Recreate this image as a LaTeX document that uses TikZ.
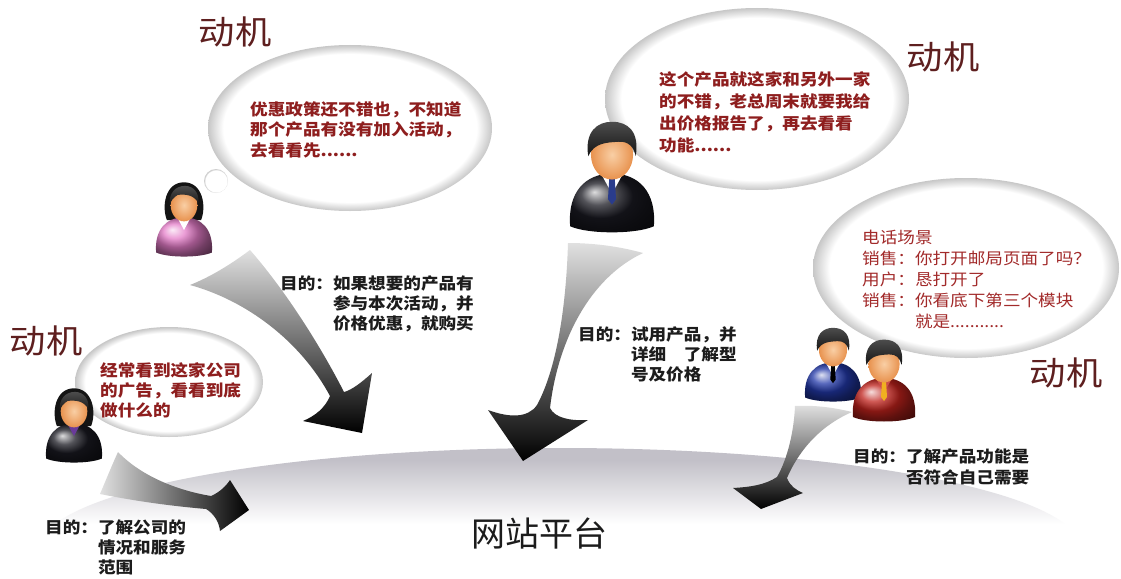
\documentclass[tikz,border=0pt]{standalone}
\usepackage{fontspec}
\newfontfamily\cjk{Noto Sans CJK SC}
\newfontfamily\cjkw{Noto Sans CJK SC}[FakeStretch=1.1]

\definecolor{motivered}{HTML}{5E1F1F}
\definecolor{speechred}{HTML}{8E1E1E}
\definecolor{callred}{HTML}{A22A2A}
\definecolor{goalblack}{HTML}{1C1C1C}
\definecolor{platgray}{HTML}{C2C0C8}
\definecolor{skinlight}{HTML}{F9CFA5}
\definecolor{skindark}{HTML}{E8924E}
\definecolor{hairblack}{HTML}{141414}
\definecolor{suitblack}{HTML}{1A1A22}
\definecolor{suitblue}{HTML}{2238A8}
\definecolor{shirtred}{HTML}{C0221C}
\definecolor{tieyellow}{HTML}{F0B020}
\definecolor{tieblue}{HTML}{2A3C8C}
\definecolor{dresspink}{HTML}{E47CC8}
\definecolor{innerpurple}{HTML}{6A3A9A}

% white thought bubble with a soft grey rim (the shape's rim sits at 25bp)
\pgfdeclareradialshading{bubbleshade}{\pgfpoint{0bp}{0bp}}{%
  color(0bp)=(white); color(22.3bp)=(white); color(25bp)=(black!22); color(50bp)=(black!22)}
% platform: grey along the upper rim, white further down (shape spans 25bp..75bp)
\pgfdeclareverticalshading{platshade}{100bp}{%
  color(0bp)=(white); color(56bp)=(white); color(72bp)=(platgray); color(100bp)=(platgray)}

\usetikzlibrary{shapes.geometric}

\tikzset{
  bubble/.style={ellipse, shade, shading=bubbleshade, inner sep=0pt},
  motive/.style={font=\cjkw\fontsize{33}{33}\selectfont, text=motivered, inner sep=0pt},
  speech/.style={font=\cjkw\bfseries\fontsize{16}{20.5}\selectfont, text=speechred,
                 align=left, anchor=north west, inner sep=0pt},
  call/.style={font=\cjkw\fontsize{16}{21}\selectfont, text=callred,
               anchor=north west, inner sep=0pt},
  goal/.style={font=\cjkw\bfseries\fontsize{16}{20}\selectfont, text=goalblack,
               anchor=north west, inner sep=0pt},
  swoosh/.style={top color=black!12, middle color=black!62, bottom color=black},
  % head and shoulders icons, head radius = 1, y axis pointing down
  pics/man/.style n args={3}{code={
    \shade[ball color=#1] (-1.55,2.75) .. controls (-1.65,1.5) and (-1.0,0.8) .. (0,0.8)
       .. controls (1.0,0.8) and (1.65,1.5) .. (1.55,2.75)
       .. controls (0.9,3.05) and (-0.9,3.05) .. cycle;
    \fill[#2] (-0.38,0.85) -- (0,1.55) -- (0.38,0.85) -- cycle;
    \fill[#3] (-0.1,0.95) -- (0.1,0.95) -- (0.15,1.75) -- (0,1.95) -- (-0.15,1.75) -- cycle;
    \shade[inner color=skinlight, outer color=skindark] (0,0.1) ellipse (0.78 and 0.92);
    \shade[top color=black!70, bottom color=hairblack]
       (-0.88,0.15) .. controls (-1.02,-0.75) and (-0.55,-1.12) .. (0,-1.12)
       .. controls (0.6,-1.12) and (1.02,-0.75) .. (0.88,0.15)
       .. controls (0.8,-0.2) and (0.6,-0.4) .. (0.25,-0.38)
       .. controls (-0.2,-0.35) and (-0.65,-0.35) .. (-0.88,0.15) -- cycle;
  }},
  pics/woman/.style n args={2}{code={
    \fill[hairblack] (-0.95,0.95) .. controls (-1.25,0.2) and (-1.05,-1.15) .. (0,-1.15)
       .. controls (1.05,-1.15) and (1.25,0.2) .. (0.95,0.95) -- cycle;
    \shade[ball color=#1] (-1.55,2.75) .. controls (-1.65,1.5) and (-1.0,0.8) .. (0,0.8)
       .. controls (1.0,0.8) and (1.65,1.5) .. (1.55,2.75)
       .. controls (0.9,3.05) and (-0.9,3.05) .. cycle;
    \fill[#2] (-0.35,0.85) -- (0,1.5) -- (0.35,0.85) -- cycle;
    \shade[inner color=skinlight, outer color=skindark] (0,0.12) ellipse (0.74 and 0.9);
    \shade[top color=black!70, bottom color=hairblack]
       (-0.8,0.15) .. controls (-0.85,-0.6) and (-0.45,-0.95) .. (0.05,-0.95)
       .. controls (0.55,-0.95) and (0.85,-0.55) .. (0.8,0.0)
       .. controls (0.55,-0.45) and (0.1,-0.5) .. (-0.35,-0.45)
       .. controls (-0.6,-0.3) and (-0.75,-0.1) .. cycle;
  }},
}

\begin{document}
\begin{tikzpicture}[x=1pt, y=-1pt]
\useasboundingbox (0,0) rectangle (1121,578);
\fill[white] (0,0) rectangle (1121,578);

% the website platform
\begin{scope}
  \clip (0,430) rectangle (1121,540);
  \shade[shading=platshade] (560,548) ellipse (520 and 100);
\end{scope}
\node[font=\cjk\fontsize{34}{34}\selectfont, text=goalblack, inner sep=0pt] (site) at (539,533) {网站平台};

% swooshing arrows into the platform
\shade[swoosh] (190,285) .. controls (245,300) and (300,340) .. (330,396)
   .. controls (325,408) and (315,416) .. (303,421) -- (362,433) -- (372,373)
   .. controls (362,382) and (352,390) .. (344,392)
   .. controls (320,345) and (285,290) .. (250,250)
   .. controls (230,265) and (210,277) .. cycle;
\shade[swoosh] (568,243) .. controls (566,310) and (556,370) .. (537,405)
   .. controls (528,418) and (510,418) .. (488,410) -- (523,461) -- (588,420)
   .. controls (570,421) and (555,418) .. (550,408)
   .. controls (558,340) and (590,278) .. (643,253)
   .. controls (618,246) and (592,243) .. cycle;
\shade[swoosh] (795,406) .. controls (794,430) and (788,458) .. (777,477)
   .. controls (765,485) and (750,487) .. (733,488) -- (761,509) -- (803,493)
   .. controls (796,490) and (790,486) .. (787,478)
   .. controls (800,448) and (822,425) .. (852,412)
   .. controls (832,407) and (812,405) .. cycle;
\shade[left color=black!12, middle color=black!55, right color=black]
   (118,452) .. controls (140,475) and (175,490) .. (211,496)
   .. controls (220,492) and (226,486) .. (230,480) -- (249,510) -- (220,531)
   .. controls (219,521) and (213,513) .. (206,509)
   .. controls (160,505) and (125,499) .. (100,494)
   .. controls (106,480) and (112,465) .. cycle;

% thought bubbles
\node[bubble, minimum width=24pt, minimum height=24pt] (b1s) at (216,181) {};
\node[bubble, minimum width=284pt, minimum height=166pt] (b1) at (350,128) {};
\node[bubble, minimum width=18pt, minimum height=18pt] (b2s) at (650,140) {};
\node[bubble, minimum width=304pt, minimum height=182pt] (b2) at (757,99) {};
\node[bubble, minimum width=306pt, minimum height=180pt] (b3) at (966,268) {};
\node[bubble, minimum width=188pt, minimum height=110pt] (b4) at (169,382) {};

% people
\pic (p1) [scale=18] at (184,203) {woman={dresspink}{white}};
\pic (p2) [scale=27] at (612,152) {man={suitblack}{white}{tieblue}};
\pic (p3) [scale=18] at (74,409) {woman={suitblack}{innerpurple}};
\pic (p4) [scale=18] at (833,348) {man={suitblue}{white}{black}};
\pic (p5) [scale=20] at (884,362) {man={shirtred}{shirtred!80!white}{tieyellow}};

% motives
\node[motive] (m1) at (235,32) {动机};
\node[motive] (m2) at (943,57) {动机};
\node[motive] (m3) at (46,341) {动机};
\node[motive] (m4) at (1066,373) {动机};

% what each visitor is thinking
\node[speech] (s1) at (250,101) {优惠政策还不错也，不知道\\那个产品有没有加入活动，\\去看看先......};
\node[speech, font=\cjkw\bfseries\fontsize{16}{22}\selectfont] (s2) at (659,71)
  {这个产品就这家和另外一家\\的不错，老总周末就要我给\\出价格报告了，再去看看\\功能......};
\node[call] (s3) at (862,229) {\begin{tabular}{@{}l@{}l@{}}
  \multicolumn{2}{@{}l@{}}{电话场景}\\
  销售：&你打开邮局页面了吗？\\
  用户：&恳打开了\\
  销售：&你看底下第三个模块\\
  &就是...........
  \end{tabular}};
\node[speech, font=\cjkw\bfseries\fontsize{16}{20}\selectfont] (s4) at (100,362)
  {经常看到这家公司\\的广告，看看到底\\做什么的};

% goals
\node[goal] (g1) at (280,275) {\begin{tabular}{@{}l@{}l@{}}
  目的：&如果想要的产品有\\ &参与本次活动，并\\ &价格优惠，就购买\end{tabular}};
\node[goal] (g2) at (578,326) {\begin{tabular}{@{}l@{}l@{}}
  目的：&试用产品，并\\ &详细　了解型\\ &号及价格\end{tabular}};
\node[goal, font=\cjkw\bfseries\fontsize{16}{21.5}\selectfont] (g3) at (853,447) {\begin{tabular}{@{}l@{}l@{}}
  目的：&了解产品功能是\\ &否符合自己需要\end{tabular}};
\node[goal, font=\cjkw\bfseries\fontsize{16}{20}\selectfont] (g4) at (45,519) {\begin{tabular}{@{}l@{}l@{}}
  目的：&了解公司的\\ &情况和服务\\ &范围\end{tabular}};
\end{tikzpicture}
\end{document}
